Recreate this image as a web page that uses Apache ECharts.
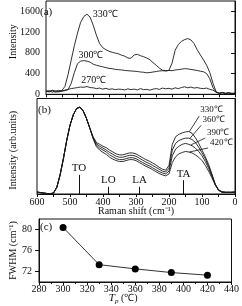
<!DOCTYPE html>
<html><head><meta charset="utf-8">
<script src="https://cdn.jsdelivr.net/npm/echarts@6/dist/echarts.min.js"></script>
<style>html,body{margin:0;padding:0;background:#fff}#c{width:242px;height:306px}</style>
</head><body><div id="c"></div>
<script>
// Raman shift grid (cm-1), 600 -> 0
const shift = [600,590,580,570,560,550,540,530,520,510,
  500,490,480,470,460,450,440,430,420,410,
  400,390,380,370,360,350,340,330,320,310,
  300,290,280,270,260,250,240,230,220,210,
  200,190,180,170,160,150,140,130,120,110,
  100,90,80,70,60,50,40,30,20,10,0];
// (a) Intensity
const a330 = [60,45,70,40,55,70,150,380,660,940,
  1180,1390,1500,1545,1490,1330,1140,980,900,860,
  830,810,795,780,755,735,700,695,760,770,
  745,725,700,665,610,560,505,465,455,460,
  600,850,960,1020,1055,1075,1050,980,860,760,
  665,560,420,215,50,20,30,15,25,10,20];
const a300 = [50,70,40,65,45,60,70,90,210,420,
  590,640,650,640,620,580,560,545,530,515,
  500,495,480,475,470,460,455,450,445,440,
  430,425,415,420,430,440,450,455,450,460,
  455,470,475,485,495,490,480,470,460,445,
  435,400,300,130,40,20,35,20,30,15,25];
const a270 = [70,55,80,60,75,65,80,95,110,120,
  130,140,135,150,130,125,110,120,100,115,
  95,105,90,100,95,85,105,90,100,85,
  110,90,95,80,100,110,95,120,105,115,
  100,125,110,130,145,125,140,120,130,115,
  110,120,95,80,40,20,30,15,25,20,15];
const aTicks = [0,400,800,1200,1600];
// (b) Intensity (arb. units)
const b330 = [2,1.5,1,0.5,0.3,1,7,20,37,56,
  72,83,89.5,91,87,79,69,60,54,52,
  50,48.5,46,44,42,41,41,42,43,43,
  42,40,38,36,34.5,32.5,30.5,28,26,25,
  30,52,60,62.5,64,65,65.5,63.5,59,53,
  46,39,31,21,10,4,2,1.5,2,1.5,2];
const b360 = [2,1.5,1,0.5,0.3,1,7,20,37,56,
  72,83,89.5,91,87,79,69,59,52.5,50,
  48,46,43.5,41.5,39.5,38.5,38.5,39.5,40.5,40.5,
  39.5,37.5,35.5,33.5,32,30,28,26,24,23,
  27,46,53,56,57.5,58.5,58.5,57,54,49,
  43,37,29,20,10.5,4.5,2.5,2,1.5,2,2];
const b390 = [2,1.5,1,0.5,0.3,1,7,20,37,56,
  72,83,89.5,91,87,79,69,58.5,51,48,
  46,44,41,39,37,36,36,37,38,38,
  37,35,33,31,29.5,27.5,25.5,23.5,22,21,
  24,40,47,50,52,53,52,50.5,48,44.5,
  40,34,27,18.5,10,4,2,1.5,2,1.5,2];
const b420 = [2,1.5,1,0.5,0.3,1,7,20,37,56,
  72,83,89.5,91,87,79,69,58,49.5,46,
  43.5,41.5,38.5,36.5,35,34,34,35,36,36,
  35,33,31,29,27.5,25.5,23.5,21.5,20,19,
  21,33,39,42,43.5,44.5,44,43,41,38.5,
  35,30,24,17,9.5,4,2,2,1.5,2,2];
const modeNames = ['TO','LO','LA','TA'];
const modeShift = [473,384,289,156];
// (c) FWHM vs Tp
const tempsC = [300,330,360,390,420];
const fwhm = [80.4,73.3,72.5,71.8,71.3];
const cTicks = [72,76,80];

const FONT = 'Liberation Serif';
const INK = '#111';
const pair = (ys) => shift.map((x, i) => [x, ys[i]]);
const axisLine = {show: true, lineStyle: {color: INK, width: 1}};
const tick = {show: true, length: 3, lineStyle: {color: INK, width: 1}};
const lbl = {color: INK, fontFamily: FONT, fontSize: 10, formatter: v => String(v), hideOverlap: false};

function tempPointer(start, end, text) {
  return {
    silent: true, animation: false,
    symbol: ['circle', 'none'], symbolSize: [3, 0],
    lineStyle: {type: 'solid', color: INK, width: 0.8},
    label: {show: true, position: 'end', formatter: text, align: 'left', verticalAlign: 'bottom',
      distance: 2, color: INK, fontFamily: FONT, fontSize: 9},
    data: [[{coord: start}, {coord: end}]]
  };
}
const modeTop = [20, 7.5, 7.5, 14.5];
const modeLines = {
  silent: true, animation: false, symbol: ['none', 'none'],
  lineStyle: {type: 'solid', color: INK, width: 1},
  label: {show: true, position: 'start', formatter: '{b}', distance: 1, color: INK, fontFamily: FONT, fontSize: 11},
  data: modeNames.map((n, i) => [{name: n, coord: [modeShift[i], modeTop[i]]}, {coord: [modeShift[i], 0]}])
};
function tempLabel(coord, text) {
  return {symbol: 'circle', symbolSize: 0.1, silent: true, animation: false,
    label: {show: true, position: 'right', distance: 0, formatter: text, color: INK, fontFamily: FONT, fontSize: 10},
    data: [{coord: coord}]};
}
const lineA = {type: 'line', showSymbol: false, symbol: 'none', lineStyle: {color: '#1a1a1a', width: 0.9}, itemStyle: {color: '#1a1a1a'}, animation: false, z: 3};

const chart = echarts.init(document.getElementById('c'), null, {renderer: 'canvas'});
chart.setOption({
  animation: false,
  backgroundColor: '#fff',
  grid: [
    {left: 36, top: 1, width: 199, height: 93.3, show: true, borderColor: INK, borderWidth: 1},
    {left: 36, top: 98.5, width: 199, height: 95.5, show: true, borderColor: INK, borderWidth: 1},
    {left: 36, top: 219, width: 198, height: 63, show: true, borderColor: INK, borderWidth: 1}
  ],
  xAxis: [
    {gridIndex: 0, type: 'value', min: 0, max: 600, interval: 50, inverse: true,
      axisLine, axisTick: tick, axisLabel: {show: false}, splitLine: {show: false}},
    {gridIndex: 1, type: 'value', min: 0, max: 600, interval: 50, inverse: true,
      axisLine, axisTick: tick, splitLine: {show: false},
      axisLabel: Object.assign({}, lbl, {margin: 3, formatter: v => (v % 100 === 0 ? String(v) : '')}),
      name: 'Raman shift (cm⁻¹)', nameLocation: 'middle', nameGap: 12, nameMoveOverlap: false,
      nameTextStyle: {color: INK, fontFamily: FONT, fontSize: 10}},
    {gridIndex: 2, type: 'value', min: 280, max: 440, interval: 20,
      axisLine, axisTick: tick, splitLine: {show: false},
      minorTick: {show: true, splitNumber: 2, length: 2, lineStyle: {color: INK}},
      axisLabel: Object.assign({}, lbl, {margin: 2}),
      name: '{i|T}{s|p} (℃)', nameLocation: 'middle', nameGap: 10, nameMoveOverlap: false,
      nameTextStyle: {color: INK, fontFamily: FONT, fontSize: 10, padding: [0, 24, 0, 0],
        rich: {i: {fontStyle: 'italic', fontFamily: FONT, fontSize: 11, color: INK},
               s: {fontStyle: 'italic', fontFamily: FONT, fontSize: 7, color: INK, verticalAlign: 'bottom', padding: [6, 0, 0, 0]}}}}
  ],
  yAxis: [
    {gridIndex: 0, type: 'value', min: 0, max: 1800,
      axisLine, axisTick: Object.assign({}, tick, {length: 4, customValues: aTicks}), splitLine: {show: false},
      axisLabel: Object.assign({}, lbl, {margin: 6, customValues: aTicks}),
      name: 'Intensity', nameLocation: 'middle', nameGap: 28, nameMoveOverlap: false,
      nameTextStyle: {color: INK, fontFamily: FONT, fontSize: 10, padding: [0, 0, 0, 12]}},
    {gridIndex: 1, type: 'value', min: 0, max: 100,
      axisLine, axisTick: {show: false}, axisLabel: {show: false}, splitLine: {show: false},
      name: 'Intensity (arb.units)', nameLocation: 'middle', nameGap: 19, nameMoveOverlap: false,
      nameTextStyle: {color: INK, fontFamily: FONT, fontSize: 10, padding: [0, 8, 0, 0]}},
    {gridIndex: 2, type: 'value', min: 70, max: 82,
      axisLine, axisTick: Object.assign({}, tick, {length: 4, customValues: cTicks}), splitLine: {show: false},
      axisLabel: Object.assign({}, lbl, {margin: 7, customValues: cTicks}),
      name: 'FWHM (cm⁻¹)', nameLocation: 'middle', nameGap: 21, nameMoveOverlap: false,
      nameTextStyle: {color: INK, fontFamily: FONT, fontSize: 10}}
  ],
  series: [
    Object.assign({}, lineA, {name: '330a', xAxisIndex: 0, yAxisIndex: 0, data: pair(a330), markPoint: tempLabel([452, 1550], '330℃')}),
    Object.assign({}, lineA, {name: '300a', xAxisIndex: 0, yAxisIndex: 0, data: pair(a300), markPoint: tempLabel([497, 759], '300℃')}),
    Object.assign({}, lineA, {name: '270a', xAxisIndex: 0, yAxisIndex: 0, data: pair(a270), markPoint: tempLabel([488, 276], '270℃')}),
    Object.assign({}, lineA, {name: '330b', xAxisIndex: 1, yAxisIndex: 1, data: pair(b330), markLine: tempPointer([138, 65.5], [108.6, 81.5], '330℃')}),
    Object.assign({}, lineA, {name: '360b', xAxisIndex: 1, yAxisIndex: 1, data: pair(b360), markLine: tempPointer([136, 58.5], [102.5, 72], '360℃')}),
    Object.assign({}, lineA, {name: '390b', xAxisIndex: 1, yAxisIndex: 1, data: pair(b390), markLine: tempPointer([133, 51.5], [90.5, 58.6], '390℃')}),
    Object.assign({}, lineA, {name: '420b', xAxisIndex: 1, yAxisIndex: 1, data: pair(b420), markLine: tempPointer([138, 44], [81.4, 48.2], '420℃')}),
    Object.assign({}, lineA, {name: 'modes', xAxisIndex: 1, yAxisIndex: 1, data: [], markLine: modeLines}),
    {type: 'line', xAxisIndex: 2, yAxisIndex: 2, data: tempsC.map((t, i) => [t, fwhm[i]]),
      symbol: 'circle', symbolSize: 7, showSymbol: true, animation: false,
      itemStyle: {color: '#000'}, lineStyle: {color: '#333', width: 1}}
  ],
  graphic: [
    {type: 'text', left: 40, top: 7, style: {text: '(a)', fontFamily: FONT, fontSize: 11, fill: INK}},
    {type: 'text', left: 38, top: 105, style: {text: '(b)', fontFamily: FONT, fontSize: 11, fill: INK}},
    {type: 'text', left: 40, top: 222, style: {text: '(c)', fontFamily: FONT, fontSize: 11, fill: INK}}
  ]
});
</script></body></html>
